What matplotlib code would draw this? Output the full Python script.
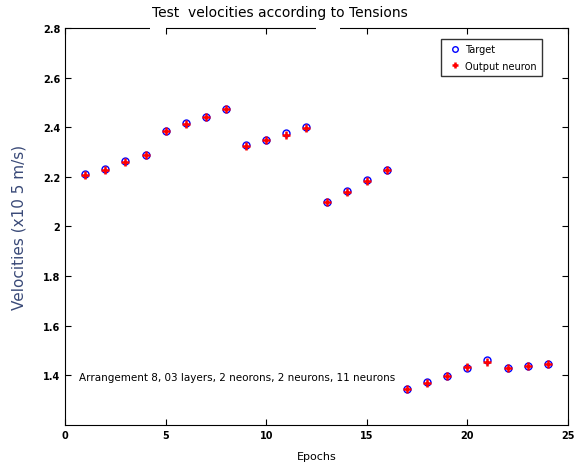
import numpy as np
import matplotlib as mpl

mpl.use('Agg')
import matplotlib.pyplot as plt
from matplotlib.patches import Rectangle

# Data
epochs = np.arange(1, 25)
target = [2.21, 2.23, 2.262, 2.287, 2.386, 2.416, 2.44, 2.473,
          2.327, 2.35, 2.376, 2.40, 2.10, 2.141, 2.186, 2.226,
          1.345, 1.374, 1.398, 1.43, 1.463, 1.43, 1.438, 1.446]
output = [2.208, 2.228, 2.26, 2.287, 2.384, 2.414, 2.44, 2.472,
          2.325, 2.348, 2.37, 2.398, 2.10, 2.14, 2.184, 2.226,
          1.343, 1.37, 1.396, 1.432, 1.455, 1.43, 1.438, 1.446]
yticks = [1.4, 1.6, 1.8, 2, 2.2, 2.4, 2.6, 2.8]
yticklabels = ['1.4', '1.6', '1.8', '2', '2.2', '2.4', '2.6', '2.8']

fig = plt.figure(figsize=(5.76, 4.64), dpi=100)
ax = fig.add_axes([0.113, 0.082, 0.873, 0.8555])

ax.plot(epochs, target, 'o', mfc='none', mec='blue', ms=5, mew=1.0, label='Target')
ax.plot(epochs, output, '+', color='red', ms=6, mew=1.8, label='Output neuron')

ax.set_xlim(0, 25)
ax.set_ylim(1.2, 2.8)
ax.set_xticks([0, 5, 10, 15, 20, 25])
ax.set_yticks(yticks)
ax.set_yticklabels(yticklabels)
ax.tick_params(direction='in', top=True, right=True, length=4, labelsize=7)
for lab in ax.get_xticklabels() + ax.get_yticklabels():
    lab.set_fontweight('bold')

ax.set_title('Test  velocities according to Tensions', fontsize=10, pad=9, x=0.427)
ax.set_xlabel('Epochs', fontsize=8, labelpad=8)
ax.set_ylabel('Velocities (x10 5 m/s)', fontsize=11, color='#3a4a78', labelpad=12)

ax.text(0.7, 1.38, 'Arrangement 8, 03 layers, 2 neorons, 2 neurons, 11 neurons', fontsize=7.5)

leg = ax.legend(loc='upper right', bbox_to_anchor=(0.948, 0.972), fontsize=7,
                fancybox=False, edgecolor='black', borderaxespad=0,
                handletextpad=0.2, handlelength=1.8, borderpad=0.5,
                labelspacing=0.7, markerscale=0.8)
leg.get_frame().set_linewidth(1.0)

# gaps in the top frame line seen in the original
for x0, w in [(150, 16), (316, 24)]:
    fig.patches.append(Rectangle((x0 / 576, 1 - 30.5 / 464), w / 576, 4 / 464,
                                 transform=fig.transFigure, facecolor='white',
                                 edgecolor='none', zorder=10))

plt.savefig('out.png')
